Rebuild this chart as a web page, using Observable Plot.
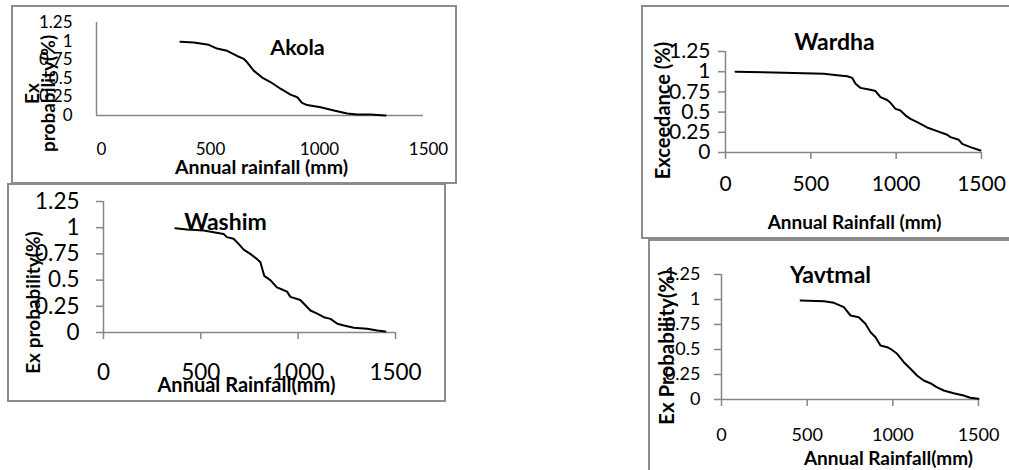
<!DOCTYPE html>
<html><head><meta charset="utf-8">
<script src="https://cdn.jsdelivr.net/npm/d3@7"></script>
<script src="https://cdn.jsdelivr.net/npm/@observablehq/plot@0.6"></script>
<style>
html,body{margin:0;padding:0;background:#fff;overflow:hidden;}
#page{position:relative;width:1009px;height:470px;font-family:Lato, sans-serif;}
.box{position:absolute;border:2px solid #8c8c8c;box-sizing:border-box;background:transparent;}
#page svg{position:absolute;left:0;top:0;}
</style></head><body><div id="page"></div>
<script>
// ---- data ----
const xTicks = [0, 500, 1000, 1500];
const yTicks = [0, 0.25, 0.5, 0.75, 1, 1.25];

const akolaRain = [385, 446, 515, 553, 599, 645, 676, 691, 722, 760, 798, 844, 890, 921, 943, 966, 1028, 1089, 1150, 1196, 1257, 1326];
const akolaProb = [0.99, 0.98, 0.95, 0.90, 0.87, 0.80, 0.76, 0.715, 0.60, 0.51, 0.45, 0.36, 0.28, 0.245, 0.17, 0.14, 0.11, 0.067, 0.027, 0.013, 0.013, 0.0];

const washimRain = [369, 429, 514, 566, 617, 634, 668, 694, 720, 754, 789, 806, 826, 857, 891, 917, 943, 960, 1011, 1037, 1063, 1098, 1132, 1166, 1201, 1235, 1286, 1354, 1406, 1448];
const washimProb = [0.995, 0.983, 0.973, 0.957, 0.94, 0.91, 0.894, 0.846, 0.79, 0.75, 0.70, 0.67, 0.54, 0.50, 0.43, 0.41, 0.39, 0.34, 0.31, 0.26, 0.21, 0.18, 0.146, 0.13, 0.083, 0.067, 0.045, 0.035, 0.019, 0.01];

const wardhaRain = [59, 342, 576, 654, 713, 742, 762, 791, 849, 879, 908, 947, 967, 996, 1025, 1054, 1084, 1123, 1181, 1240, 1299, 1318, 1367, 1387, 1435, 1494];
const wardhaProb = [1.0, 0.986, 0.974, 0.957, 0.944, 0.924, 0.85, 0.80, 0.776, 0.76, 0.685, 0.65, 0.615, 0.54, 0.52, 0.46, 0.417, 0.375, 0.31, 0.264, 0.22, 0.19, 0.157, 0.107, 0.066, 0.025];

const yavtmalRain = [462, 598, 656, 714, 753, 801, 840, 870, 899, 928, 967, 986, 1025, 1064, 1103, 1141, 1180, 1219, 1256, 1297, 1355, 1413, 1452, 1500];
const yavtmalProb = [0.99, 0.983, 0.967, 0.923, 0.84, 0.823, 0.757, 0.673, 0.623, 0.54, 0.523, 0.507, 0.457, 0.373, 0.307, 0.24, 0.19, 0.163, 0.123, 0.09, 0.063, 0.04, 0.017, 0.007];

const names = ["Akola", "Washim", "Wardha", "Yavtmal"];
const xLabels = ["Annual rainfall (mm)", "Annual Rainfall(mm)", "Annual Rainfall (mm)", "Annual Rainfall(mm)"];
const yLabels = ["Ex\nprobability(%)", "Ex probability(%)", "Exceedance (%)", "Ex Probability(%)"];

// ---- layout ----
const W = 1009, H = 470;
const boxes = [
  {l: 11, t: 5, w: 446, h: 179},
  {l: 7, t: 183, w: 439, h: 219},
  {l: 641, t: 5, w: 380, h: 234},
  {l: 648, t: 239, w: 380, h: 250}
];
const layout = [
  {x0: 96, x1: 423, y0: 115, y1: 22, tick: 0, xPad: 27, yPad: 24, xdx: 5, tf: 17,
   title: {dx: 201, dy: 26, fs: 21.5}, xl: {dx: 1.5, dy: 52, fs: 19.5}, yl: {dx: -55, dy: 24.5, fs: 19, lh: 0.85}},
  {x0: 103, x1: 395, y0: 332, y1: 201, tick: 7, xPad: 25, yPad: 17, xdx: 0, tf: 22.5,
   title: {dx: 122, dy: 21, fs: 23}, xl: {dx: -3, dy: 53, fs: 20}, yl: {dx: -70, dy: 35.5, fs: 19, lh: 1}},
  {x0: 725, x1: 981, y0: 152, y1: 51, tick: 7, xPad: 17, yPad: 8, xdx: 0, tf: 21,
   title: {dx: 109, dy: -9, fs: 23}, xl: {dx: 1, dy: 70, fs: 19}, yl: {dx: -62, dy: 8.5, fs: 20, lh: 1}},
  {x0: 721, x1: 978, y0: 399, y1: 274, tick: 7, xPad: 22, yPad: 14, xdx: 0, tf: 18,
   title: {dx: 109, dy: 1, fs: 23}, xl: {dx: 38.5, dy: 59, fs: 19}, yl: {dx: -54, dy: 10.5, fs: 20.5, lh: 1}}
];

const series = [
  [akolaRain, akolaProb], [washimRain, washimProb], [wardhaRain, wardhaProb], [yavtmalRain, yavtmalProb]
];

const page = document.getElementById("page");
boxes.forEach(b => {
  const d = document.createElement("div");
  d.className = "box";
  Object.assign(d.style, {left: b.l + "px", top: b.t + "px", width: b.w + "px", height: b.h + "px"});
  page.appendChild(d);
});

const axisColor = "#868686";
series.forEach(([rain, prob], i) => {
  const L = layout[i];
  const data = rain.map((r, j) => ({rain: r, prob: prob[j]}));
  const chart = Plot.plot({
    width: W, height: H,
    marginLeft: L.x0, marginRight: W - L.x1, marginTop: L.y1, marginBottom: H - L.y0,
    style: "background: transparent; font-family: Lato, sans-serif; overflow: visible;",
    x: {domain: [0, 1500]},
    y: {domain: [0, 1.25]},
    marks: [
      Plot.axisX({ticks: xTicks, tickFormat: String, tickSize: L.tick, tickPadding: L.xPad, dx: L.xdx,
        stroke: axisColor, strokeWidth: 1.5, fill: "black", fontSize: L.tf, label: null}),
      Plot.axisY({ticks: yTicks, tickFormat: String, tickSize: L.tick, tickPadding: L.yPad,
        stroke: axisColor, strokeWidth: 1.5, fill: "black", fontSize: L.tf, label: null}),
      Plot.ruleY([0], {stroke: axisColor, strokeWidth: 1.5}),
      Plot.ruleX([0], {stroke: axisColor, strokeWidth: 1.5}),
      Plot.line(data, {x: "rain", y: "prob", stroke: "black", strokeWidth: 2}),
      Plot.text([yLabels[i]], {frameAnchor: "left", rotate: -90, dx: L.yl.dx, dy: L.yl.dy,
        fontSize: L.yl.fs, fontWeight: "bold", fill: "black", lineAnchor: "middle", textAnchor: "middle", lineHeight: L.yl.lh}),
      Plot.text([names[i]], {frameAnchor: "top-left", dx: L.title.dx, dy: L.title.dy,
        fontSize: L.title.fs, fontWeight: "bold", fill: "black", lineAnchor: "middle", textAnchor: "middle"}),
      Plot.text([xLabels[i]], {frameAnchor: "bottom", dx: L.xl.dx, dy: L.xl.dy,
        fontSize: L.xl.fs, fontWeight: "bold", fill: "black", lineAnchor: "middle", textAnchor: "middle"})
    ]
  });
  page.appendChild(chart);
});
</script></body></html>
